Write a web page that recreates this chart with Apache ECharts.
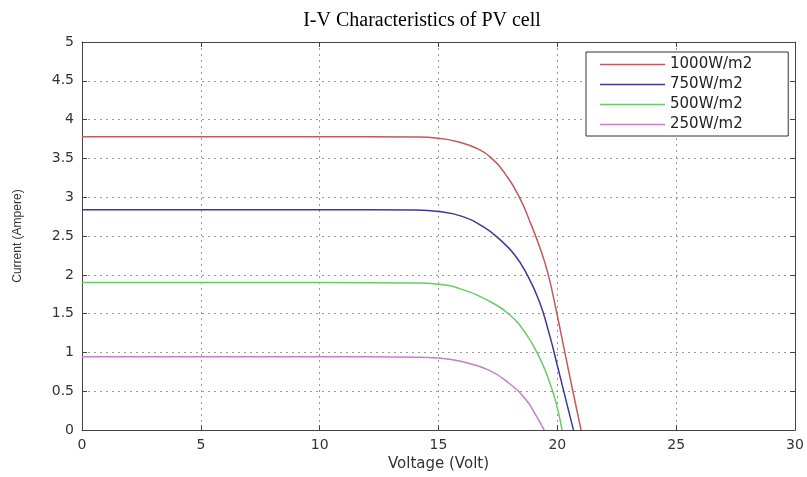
<!DOCTYPE html>
<html>
<head>
<meta charset="utf-8">
<script src="https://cdn.jsdelivr.net/npm/echarts@6/dist/echarts.min.js"></script>
<style>
  html, body { margin: 0; padding: 0; background: #fff; }
  #myChart { width: 807px; height: 477px; }
</style>
</head>
<body>
<div id="myChart"></div>
<script>
// legend names
var names = ['1000W/m2', '750W/m2', '500W/m2', '250W/m2'];
var colors = ['#c05a5c', '#3a3a96', '#66cc66', '#c77ccc'];

// voltage (V) / current (A)
var v1000 = [0, 5, 10, 14, 15, 16, 16.6, 17.17, 17.88, 18.45, 18.88, 19.3, 19.62, 19.94, 20.29, 20.64, 21.0];
var i1000 = [3.78, 3.78, 3.78, 3.775, 3.76, 3.7, 3.63, 3.52, 3.27, 2.97, 2.66, 2.32, 2.0, 1.56, 1.04, 0.52, 0];

var v750 = [0, 5, 10, 14, 15, 16.03, 16.88, 17.6, 18.2, 18.7, 19.24, 19.66, 20.01, 20.36, 20.68];
var i750 = [2.84, 2.84, 2.84, 2.835, 2.815, 2.75, 2.62, 2.45, 2.26, 2.02, 1.66, 1.24, 0.82, 0.39, 0];

var v500 = [0, 5, 10, 14, 15, 16.02, 17.14, 17.98, 18.68, 19.24, 19.66, 19.94, 20.2];
var i500 = [1.9, 1.9, 1.9, 1.895, 1.88, 1.81, 1.66, 1.49, 1.24, 0.94, 0.63, 0.36, 0];

var v250 = [0, 5, 10, 14, 15, 16.02, 17.14, 17.98, 18.68, 19.1, 19.45];
var i250 = [0.945, 0.945, 0.945, 0.94, 0.93, 0.88, 0.77, 0.6, 0.39, 0.19, 0];

var xTicks = [0, 5, 10, 15, 20, 25, 30];
var yTicks = [0, 0.5, 1, 1.5, 2, 2.5, 3, 3.5, 4, 4.5, 5];

function zip(v, i) {
  var out = [];
  for (var k = 0; k < v.length; k++) out.push([v[k], i[k]]);
  return out;
}
var curves = [zip(v1000, i1000), zip(v750, i750), zip(v500, i500), zip(v250, i250)];

var myChart = echarts.init(document.getElementById('myChart'));
var labelFont = { color: '#333', fontSize: 14, fontFamily: 'DejaVu Sans' };
var axisLineStyle = { color: '#444', width: 1 };
var gridDots = { color: '#999', type: [2, 4], width: 1 };

var series = [];
for (var s = 0; s < names.length; s++) {
  series.push({
    name: names[s],
    type: 'line',
    xAxisIndex: 0,
    yAxisIndex: 0,
    data: curves[s],
    symbol: 'none',
    smooth: 0.5,
    lineStyle: { color: colors[s], width: 1.5 },
    itemStyle: { color: colors[s] }
  });
}

var option = {
  animation: false,
  title: {
    text: 'I-V Characteristics of PV cell',
    left: 417,
    top: 6,
    textAlign: 'center',
    textStyle: { fontFamily: 'Liberation Serif', fontSize: 20, fontWeight: 'normal', color: '#000' }
  },
  legend: {
    orient: 'vertical',
    left: 586,
    top: 52,
    padding: [5, 36, 4, 14],
    icon: 'rect',
    itemWidth: 65,
    itemHeight: 1.5,
    itemGap: 5,
    borderColor: '#333',
    borderWidth: 1,
    backgroundColor: '#fff',
    textStyle: { color: '#222', fontSize: 15, lineHeight: 15, fontFamily: 'DejaVu Sans' },
    data: names
  },
  grid: { left: 82, right: 12, top: 42, bottom: 43 },
  xAxis: [{
    type: 'value',
    min: 0, max: 30, interval: 5,
    name: 'Voltage (Volt)',
    nameLocation: 'middle',
    nameGap: 24,
    nameTextStyle: { color: '#333', fontSize: 15, fontFamily: 'DejaVu Sans' },
    axisLine: { show: true, onZero: false, lineStyle: axisLineStyle },
    axisTick: { show: true, inside: true, length: 5, lineStyle: axisLineStyle },
    axisLabel: labelFont,
    splitLine: { show: true, lineStyle: gridDots }
  }, {
    type: 'value',
    position: 'top',
    min: 0, max: 30, interval: 5,
    axisLine: { show: true, onZero: false, lineStyle: axisLineStyle },
    axisTick: { show: true, inside: true, length: 5, lineStyle: axisLineStyle },
    axisLabel: { show: false },
    splitLine: { show: false }
  }],
  yAxis: [{
    type: 'value',
    min: 0, max: 5, interval: 0.5,
    name: 'Current (Ampere)',
    nameLocation: 'middle',
    nameGap: 58,
    nameTextStyle: { color: '#333', fontSize: 12, fontFamily: 'Liberation Sans' },
    axisLine: { show: true, onZero: false, lineStyle: axisLineStyle },
    axisTick: { show: true, inside: true, length: 5, lineStyle: axisLineStyle },
    axisLabel: labelFont,
    splitLine: { show: true, lineStyle: gridDots }
  }, {
    type: 'value',
    position: 'right',
    min: 0, max: 5, interval: 0.5,
    axisLine: { show: true, onZero: false, lineStyle: axisLineStyle },
    axisTick: { show: true, inside: true, length: 5, lineStyle: axisLineStyle },
    axisLabel: { show: false },
    splitLine: { show: false }
  }],
  series: series
};
myChart.setOption(option);
</script>
</body>
</html>
